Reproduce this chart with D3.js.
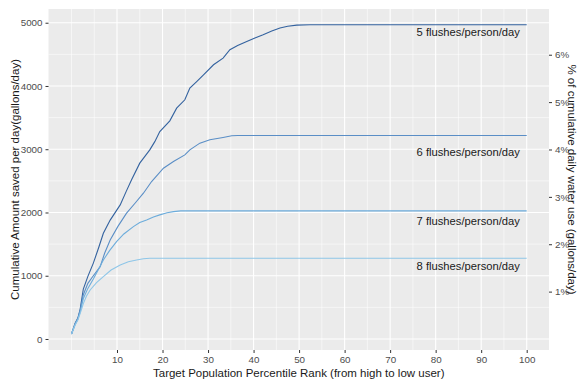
<!DOCTYPE html>
<html>
<head>
<meta charset="utf-8">
<script src="https://cdn.jsdelivr.net/npm/d3@7"></script>
<style>
body { margin: 0; background: #fff; }
text { font-family: "Liberation Sans", Arial, sans-serif; }
</style>
</head>
<body>
<div id="chart"></div>
<script>
{
// data: [percentile rank, cumulative gallons/day]
const flush5 = [[0,79],[0.8,250],[1.4,330],[1.9,470],[2.6,790],[3.6,990],[4.8,1200],[6,1450],[7,1672],[8.5,1880],[10.7,2120],[12,2330],[13.2,2516],[15,2780],[17.2,2990],[18.3,3120],[19.4,3280],[21.6,3449],[23.1,3650],[24.9,3782],[26,3967],[27.5,4070],[29,4177],[31.2,4335],[33.3,4441],[34.8,4573],[36.5,4640],[38.5,4704],[40.3,4760],[42.1,4810],[44,4870],[45.8,4916],[47.5,4945],[49.5,4962],[52.4,4968],[100,4968]];
const flush6 = [[0,79],[0.8,240],[1.4,320],[1.9,450],[2.6,700],[3.6,880],[4.8,1000],[6.3,1144],[7.3,1360],[8.5,1566],[10.2,1780],[12.1,1989],[14,2150],[15.8,2305],[17.6,2489],[20.2,2700],[22.4,2805],[24.9,2911],[26,2990],[28.2,3096],[30.4,3149],[33.3,3186],[35.2,3212],[36.5,3217],[100,3217]];
const flush7 = [[0,79],[0.8,230],[1.4,310],[1.9,430],[2.6,640],[3.6,800],[4.8,950],[6,1110],[7,1250],[8.4,1400],[9.9,1540],[11.5,1660],[13.6,1777],[15,1840],[16.5,1883],[18,1930],[19.4,1962],[21,1995],[22.4,2014],[24,2025],[100,2025]];
const flush8 = [[0,79],[0.8,220],[1.4,300],[1.9,400],[2.6,560],[3.3,680],[4.1,775],[5.5,890],[7,986],[8.7,1090],[10.7,1171],[12.5,1220],[14.3,1250],[15.8,1268],[17.2,1277],[100,1277]];

const seriesNames = ['5 flushes/person/day', '6 flushes/person/day', '7 flushes/person/day', '8 flushes/person/day'];
const seriesValues = [flush5, flush6, flush7, flush8];
const seriesColors = ['#33629f', '#5a8ec6', '#6cacdb', '#8ec6e8'];
const labelX = [98.5, 98.5, 98.5, 98.5];
const labelY = [4850, 2960, 1860, 1150];

const xTicks = [10, 20, 30, 40, 50, 60, 70, 80, 90, 100];
const xMinor = [0, 5, 15, 25, 35, 45, 55, 65, 75, 85, 95];
const yTicks = [0, 1000, 2000, 3000, 4000, 5000];
const yMinor = [500, 1500, 2500, 3500, 4500];
const pctTicks = [1, 2, 3, 4, 5, 6];
const totalUse = 74900; // gallons/day, 1% of total

const width = 577;
const height = 380;
const margin = {top: 9, right: 28, bottom: 30, left: 48.5};

const svg = d3.select('#chart')
    .append('svg')
    .attr('width', width)
    .attr('height', height);

const x = d3.scaleLinear()
    .domain([-5.05, 104.9])
    .range([margin.left, width - margin.right]);

const y = d3.scaleLinear()
    .domain([-174, 5217])
    .range([height - margin.bottom, margin.top]);

// panel background
svg.append('rect')
    .attr('x', margin.left)
    .attr('y', margin.top)
    .attr('width', x.range()[1] - x.range()[0])
    .attr('height', y.range()[0] - y.range()[1])
    .style('fill', '#ebebeb');

const grid = svg.append('g');
grid.selectAll('.xminor').data(xMinor).enter().append('line')
    .attr('x1', d => x(d)).attr('x2', d => x(d))
    .attr('y1', y.range()[0]).attr('y2', y.range()[1])
    .style('stroke', '#fff').style('stroke-width', 0.55);
grid.selectAll('.yminor').data(yMinor).enter().append('line')
    .attr('y1', d => y(d)).attr('y2', d => y(d))
    .attr('x1', x.range()[0]).attr('x2', x.range()[1])
    .style('stroke', '#fff').style('stroke-width', 0.55);
grid.selectAll('.xmajor').data(xTicks).enter().append('line')
    .attr('x1', d => x(d)).attr('x2', d => x(d))
    .attr('y1', y.range()[0]).attr('y2', y.range()[1])
    .style('stroke', '#fff').style('stroke-width', 1.1);
grid.selectAll('.ymajor').data(yTicks).enter().append('line')
    .attr('y1', d => y(d)).attr('y2', d => y(d))
    .attr('x1', x.range()[0]).attr('x2', x.range()[1])
    .style('stroke', '#fff').style('stroke-width', 1.1);

// curves
const line = d3.line()
    .x(d => x(d[0]))
    .y(d => y(d[1]));

svg.selectAll('.curve').data(seriesValues).enter().append('path')
    .attr('d', line)
    .style('fill', 'none')
    .style('stroke', (d, i) => seriesColors[i])
    .style('stroke-width', 1.1);

svg.selectAll('.lab').data(seriesNames).enter().append('text')
    .attr('x', (d, i) => x(labelX[i]))
    .attr('y', (d, i) => y(labelY[i]))
    .attr('dy', '0.35em')
    .style('text-anchor', 'end')
    .style('font-size', '11.2px')
    .style('fill', '#1a1a1a')
    .text(d => d);

// axes
const axisStyle = function(g) {
    g.select('.domain').remove();
    g.selectAll('.tick line').style('stroke', '#333').style('stroke-width', 1);
    g.selectAll('.tick text').style('fill', '#4d4d4d').style('font-size', '9.8px')
        .style('font-family', '"Liberation Sans", Arial, sans-serif');
};

svg.append('g')
    .attr('transform', `translate(0, ${y.range()[0]})`)
    .call(d3.axisBottom(x).tickValues(xTicks).tickSize(3).tickPadding(3))
    .call(axisStyle);

svg.append('g')
    .attr('transform', `translate(${margin.left}, 0)`)
    .call(d3.axisLeft(y).tickValues(yTicks).tickFormat(d3.format('d')).tickSize(3).tickPadding(3))
    .call(axisStyle);

const yPct = d3.scaleLinear()
    .domain(y.domain().map(v => v / totalUse * 100))
    .range(y.range());

svg.append('g')
    .attr('transform', `translate(${x.range()[1]}, 0)`)
    .call(d3.axisRight(yPct).tickValues(pctTicks).tickFormat(d => d + '%').tickSize(3).tickPadding(3))
    .call(axisStyle);

// titles
const panelMidX = (x.range()[0] + x.range()[1]) / 2;
const panelMidY = (y.range()[0] + y.range()[1]) / 2;

svg.append('text')
    .attr('x', panelMidX)
    .attr('y', height - 3)
    .style('text-anchor', 'middle')
    .style('font-size', '11.5px')
    .style('fill', '#1a1a1a')
    .text('Target Population Percentile Rank (from high to low user)');

svg.append('text')
    .attr('transform', `translate(19, ${panelMidY}) rotate(-90)`)
    .style('text-anchor', 'middle')
    .style('font-size', '11.5px')
    .style('fill', '#1a1a1a')
    .text('Cumulative Amount saved per day(gallons/day)');

svg.append('text')
    .attr('transform', `translate(568, ${panelMidY}) rotate(90)`)
    .style('text-anchor', 'middle')
    .style('font-size', '11.5px')
    .style('fill', '#1a1a1a')
    .text('% of cumulative daily water use (gallons/day)');
}
</script>
</body>
</html>
